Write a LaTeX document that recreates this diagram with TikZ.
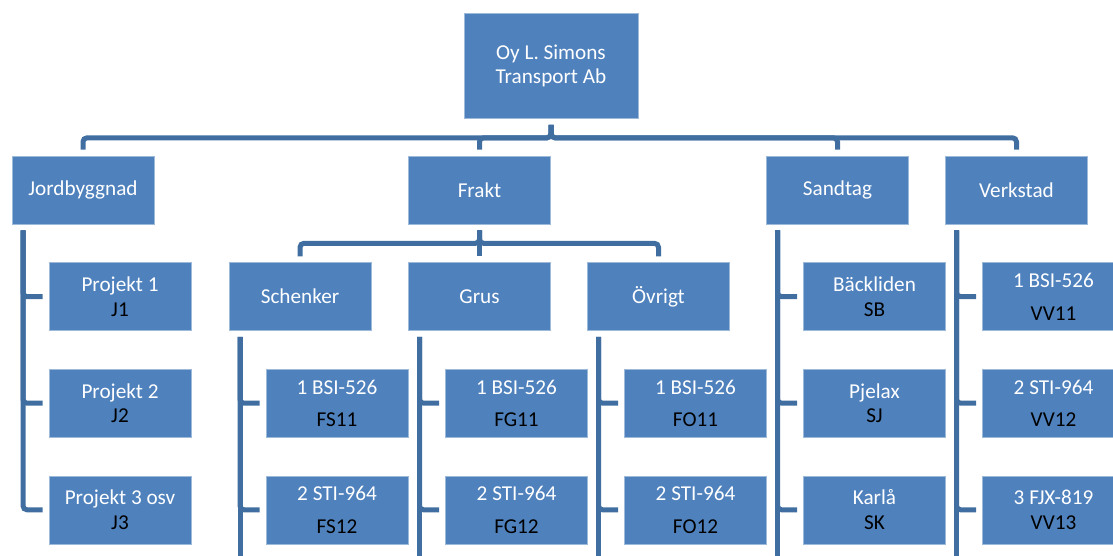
\documentclass[tikz,border=0pt]{standalone}
\usepackage{fontspec}
\setmainfont{Carlito}
\usetikzlibrary{positioning}
\definecolor{boxblue}{HTML}{4F81BD}
\definecolor{linkblue}{HTML}{416EA0}
\newcommand{\kod}[1]{\textcolor{black}{#1}}

\begin{document}
\begin{tikzpicture}[
        x=1pt, y=-1pt,
        node distance=38pt,
        unit/.style={rectangle, fill=boxblue, draw=boxblue!55!white, line width=0.6pt, text=white, align=center, minimum width=142pt, minimum height=68pt, inner sep=2pt, font=\fontsize{21.2}{24.5}\selectfont},
        link/.style={draw=linkblue, line width=5pt, rounded corners=4pt, shorten <=6pt, shorten >=6pt},
    ]
    \useasboundingbox (0,0) rectangle (1113,555);
    \clip (0,0) rectangle (1113,555);
    \coordinate (bottom) at (0,580);

    \node[unit, minimum width=174pt, minimum height=105pt] (firma) at (551,66) {Oy L. Simons\\Transport Ab};

    \node[unit] (jord)     at (83,190)    {Jordbyggnad};
    \node[unit] (frakt)    at (479.5,190) {Frakt};
    \node[unit] (sandtag)  at (837.5,190) {Sandtag};
    \node[unit] (verkstad) at (1016.5,190) {Verkstad};

    \node[unit] (p1) [below=of jord, xshift=37pt] {Projekt 1\\\kod{J1}};
    \node[unit] (p2) [below=of p1] {Projekt 2\\\kod{J2}};
    \node[unit] (p3) [below=of p2] {Projekt 3 osv\\\kod{J3}};

    \node[unit] (schenker) [below=of frakt, xshift=-179.5pt] {Schenker};
    \node[unit] (grus)     [below=of frakt]                  {Grus};
    \node[unit] (ovrigt)   [below=of frakt, xshift=179pt]    {Övrigt};

    \node[unit] (fs11) [below=of schenker, xshift=37pt] {1 BSI-526\\[8pt]\kod{FS11}};
    \node[unit] (fs12) [below=of fs11] {2 STI-964\\[8pt]\kod{FS12}};
    \node[unit] (fg11) [below=of grus, xshift=37pt] {1 BSI-526\\[8pt]\kod{FG11}};
    \node[unit] (fg12) [below=of fg11] {2 STI-964\\[8pt]\kod{FG12}};
    \node[unit] (fo11) [below=of ovrigt, xshift=37pt] {1 BSI-526\\[8pt]\kod{FO11}};
    \node[unit] (fo12) [below=of fo11] {2 STI-964\\[8pt]\kod{FO12}};

    \node[unit] (sb) [below=of sandtag, xshift=37pt] {Bäckliden\\\kod{SB}};
    \node[unit] (sj) [below=of sb] {Pjelax\\\kod{SJ}};
    \node[unit] (sk) [below=of sj] {Karlå\\\kod{SK}};

    \node[unit] (vv11) [below=of verkstad, xshift=37pt] {1 BSI-526\\[8pt]\kod{VV11}};
    \node[unit] (vv12) [below=of vv11] {2 STI-964\\[8pt]\kod{VV12}};
    \node[unit] (vv13) [below=of vv12] {3 FJX-819\\\kod{VV13}};

    % bus under the firm and under Frakt
    \foreach \afd in {jord,frakt,sandtag,verkstad}
        \draw[link] (firma.south) -- ++(0,19) -| (\afd.north);
    \foreach \afd in {schenker,grus,ovrigt}
        \draw[link] (frakt.south) -- ++(0,19) -| (\afd.north);

    % side spines
    \coordinate (jord-spine) at ([xshift=-60pt]jord.south);
    \foreach \kind in {p1,p2,p3}
        \draw[link] (jord-spine) |- (\kind.west);
    \foreach \chef in {schenker,grus,ovrigt,sandtag,verkstad} {
        \coordinate (\chef-spine) at ([xshift=-60pt]\chef.south);
        \draw[link] (\chef-spine) -- (\chef-spine |- bottom);
    }
    \foreach \chef/\kind in {schenker/fs11,schenker/fs12,grus/fg11,grus/fg12,ovrigt/fo11,ovrigt/fo12,
                             sandtag/sb,sandtag/sj,sandtag/sk,verkstad/vv11,verkstad/vv12,verkstad/vv13}
        \draw[link] (\chef-spine) |- (\kind.west);
\end{tikzpicture}
\end{document}
